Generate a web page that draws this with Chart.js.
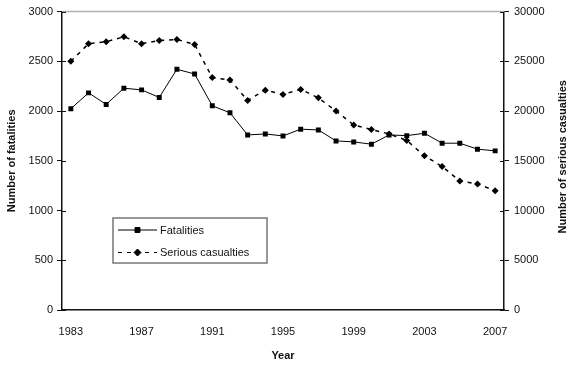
<!DOCTYPE html>
<html>
<head>
<meta charset="utf-8">
<script src="https://cdn.jsdelivr.net/npm/chart.js"></script>
<style>
  html, body { margin: 0; padding: 0; background: #fff; }
  #wrap { width: 579px; height: 371px; position: relative; }
</style>
</head>
<body>
<div id="wrap"><canvas id="chart" width="579" height="371"></canvas></div>
<script>
// values
const years = ['1983', '1984', '1985', '1986', '1987', '1988', '1989', '1990', '1991', '1992',
    '1993', '1994', '1995', '1996', '1997', '1998', '1999', '2000', '2001', '2002',
    '2003', '2004', '2005', '2006', '2007'];
const fatalities = [2023, 2183, 2067, 2230, 2213, 2137, 2420, 2373, 2053, 1983,
    1760, 1770, 1750, 1818, 1810, 1700, 1690, 1667, 1760, 1753,
    1777, 1677, 1677, 1617, 1600];
const seriousCasualties = [25000, 26770, 26970, 27470, 26770, 27100, 27200, 26700, 23370, 23130,
    21070, 22100, 21670, 22180, 21330, 20000, 18600, 18150, 17700, 17050,
    15500, 14430, 12970, 12670, 12000];
const seriesNames = ['Fatalities', 'Serious casualties'];
const leftTitle = 'Number of fatalities';
const rightTitle = 'Number of serious casualties';
const xTitle = 'Year';

const fontFamily = '"Liberation Sans", Arial, sans-serif';
Chart.defaults.font.family = fontFamily;
Chart.defaults.font.size = 11;
Chart.defaults.color = '#111';

// extras: gray top border, inner tick marks, right title (bottom-to-top), legend box
const extras = {
    id: 'extras',
    afterDraw(chart) {
        const ctx = chart.ctx;
        const a = chart.chartArea;
        ctx.save();

        ctx.strokeStyle = '#b0b0b0';
        ctx.lineWidth = 1.5;
        ctx.beginPath();
        ctx.moveTo(a.left, a.top);
        ctx.lineTo(a.right, a.top);
        ctx.stroke();

        ctx.strokeStyle = '#111';
        ctx.lineWidth = 1;
        chart.scales.y.ticks.forEach(t => {
            const py = Math.round(chart.scales.y.getPixelForValue(t.value)) + 0.5;
            ctx.beginPath(); ctx.moveTo(a.left, py); ctx.lineTo(a.left + 4, py); ctx.stroke();
        });
        chart.scales.y1.ticks.forEach(t => {
            const py = Math.round(chart.scales.y1.getPixelForValue(t.value)) + 0.5;
            ctx.beginPath(); ctx.moveTo(a.right - 4, py); ctx.lineTo(a.right, py); ctx.stroke();
        });

        // right axis title, read bottom to top
        ctx.fillStyle = '#111';
        ctx.font = 'bold 11px ' + fontFamily;
        ctx.textAlign = 'center';
        ctx.textBaseline = 'middle';
        ctx.translate(563, (a.top + a.bottom) / 2 - 4);
        ctx.rotate(-Math.PI / 2);
        ctx.fillText(rightTitle, 0, 0);
        ctx.setTransform(1, 0, 0, 1, 0, 0);

        // legend box
        const bx = 113, by = 218, bw = 154, bh = 45;
        ctx.strokeStyle = '#777';
        ctx.lineWidth = 1.5;
        ctx.fillStyle = '#fff';
        ctx.fillRect(bx, by, bw, bh);
        ctx.strokeRect(bx, by, bw, bh);

        const rows = [230, 252.5];
        chart.data.datasets.forEach((ds, i) => {
            const ry = rows[i];
            ctx.strokeStyle = '#000';
            ctx.lineWidth = 1;
            ctx.setLineDash(ds.borderDash || []);
            ctx.beginPath();
            ctx.moveTo(118, ry);
            ctx.lineTo(157, ry);
            ctx.stroke();
            ctx.setLineDash([]);
            ctx.fillStyle = '#000';
            Chart.helpers.drawPoint(ctx, {
                pointStyle: ds.pointStyle, radius: ds.pointRadius, borderWidth: 1
            }, 137.5, ry);
            ctx.fillStyle = '#111';
            ctx.textAlign = 'left';
            ctx.textBaseline = 'middle';
            ctx.font = '11px ' + fontFamily;
            ctx.fillText(ds.label, 160, ry + 0.5);
        });
        ctx.restore();
    }
};

new Chart(document.getElementById('chart'), {
    type: 'line',
    data: {
        labels: years,
        datasets: [
            {
                label: seriesNames[0],
                data: fatalities,
                yAxisID: 'y',
                borderColor: '#000',
                backgroundColor: '#000',
                borderWidth: 1,
                pointStyle: 'rect',
                pointRadius: 3.5,
                pointBorderWidth: 0,
                tension: 0
            },
            {
                label: seriesNames[1],
                data: seriousCasualties,
                yAxisID: 'y1',
                borderColor: '#000',
                backgroundColor: '#000',
                borderWidth: 1.5,
                borderDash: [4, 5],
                pointStyle: 'rectRot',
                pointRadius: 3.5,
                pointBorderWidth: 0,
                tension: 0
            }
        ]
    },
    options: {
        responsive: false,
        animation: false,
        devicePixelRatio: 1,
        layout: { padding: { top: 10, left: 0, right: 0, bottom: 0 } },
        plugins: {
            legend: { display: false },
            tooltip: { enabled: false }
        },
        scales: {
            x: {
                type: 'category',
                offset: true,
                grid: { display: false, drawTicks: false },
                border: { display: true, color: '#111', width: 1.5 },
                ticks: {
                    autoSkip: false,
                    maxRotation: 0,
                    padding: 15,
                    callback: function (v, i) { return i % 4 === 0 ? this.getLabelForValue(v) : ''; }
                },
                title: {
                    display: true,
                    text: xTitle,
                    font: { weight: 'bold', size: 11 },
                    padding: { top: 0, bottom: 8 }
                },
                afterFit: s => { s.height = 61; }
            },
            y: {
                position: 'left',
                min: 0,
                max: 3000,
                ticks: { stepSize: 500, padding: 4, callback: v => String(v) },
                grid: { drawOnChartArea: false, tickLength: 5, color: '#111' },
                border: { display: true, color: '#111', width: 1.5 },
                title: {
                    display: true,
                    text: leftTitle,
                    font: { weight: 'bold', size: 11 },
                    padding: { top: 5, bottom: 0 }
                },
                afterFit: s => { s.width = 62; }
            },
            y1: {
                position: 'right',
                min: 0,
                max: 30000,
                ticks: { stepSize: 5000, padding: 5, callback: v => String(v) },
                grid: { drawOnChartArea: false, tickLength: 5, color: '#111' },
                border: { display: true, color: '#111', width: 1.5 },
                afterFit: s => { s.width = 75; }
            }
        }
    },
    plugins: [extras]
});
</script>
</body>
</html>
